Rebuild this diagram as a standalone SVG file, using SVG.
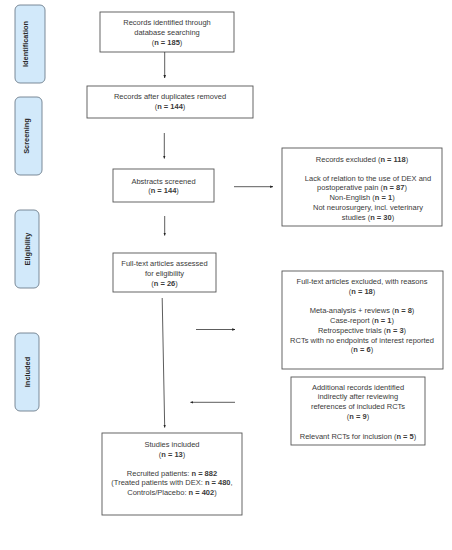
<svg xmlns="http://www.w3.org/2000/svg" width="452" height="550" viewBox="0 0 452 550">
<defs>
<marker id="ah" viewBox="0 0 10 10" refX="9" refY="5" markerWidth="4" markerHeight="4" orient="auto"><path d="M0,1 L10,5 L0,9 z" fill="#222"/></marker>
<style>
.box{fill:#fff;stroke:#555;stroke-width:0.9}
.phase{fill:#d2e9fa;stroke:#6e7e8c;stroke-width:0.9}
text{font-family:"Liberation Sans",Arial,sans-serif;font-size:7.5px;fill:#3a3a3a;text-anchor:middle}
.ph{font-weight:bold;font-size:7.4px;fill:#2a2a2a}
.b{font-weight:bold}
.c{stroke:#333;stroke-width:0.8;fill:none;marker-end:url(#ah)}
</style>
</defs>
<rect width="452" height="550" fill="#fff"/>
<g id="phase-identification"><rect class="phase" x="15" y="5" width="30" height="78" rx="5"/><text class="ph" transform="translate(27.8,44) rotate(-90)">Identification</text></g>
<g id="phase-screening"><rect class="phase" x="15" y="97" width="27" height="78" rx="5"/><text class="ph" transform="translate(28.8,136) rotate(-90)">Screening</text></g>
<g id="phase-eligibility"><rect class="phase" x="15" y="210" width="24" height="78" rx="5"/><text class="ph" transform="translate(29.5,249) rotate(-90)">Eligibility</text></g>
<g id="phase-included"><rect class="phase" x="15" y="333" width="24" height="78" rx="5"/><text class="ph" transform="translate(29.5,372) rotate(-90)">Included</text></g>

<g id="identified"><rect class="box" x="100" y="12" width="134" height="40"/>
<text x="167" y="25.3">Records identified through</text><text x="167" y="34.8">database searching</text><text x="167" y="44.6">(<tspan class="b">n = 185</tspan>)</text></g>
<g id="after-duplicates"><rect class="box" x="87" y="86" width="166" height="32"/>
<text x="170" y="98.8">Records after duplicates removed</text><text x="170" y="109.3">(<tspan class="b">n = 144</tspan>)</text></g>
<g id="abstracts"><rect class="box" x="113" y="169" width="101" height="33"/>
<text x="163.5" y="183.6">Abstracts screened</text><text x="163.5" y="193.3">(<tspan class="b">n = 144</tspan>)</text></g>
<g id="records-excluded"><rect class="box" x="282" y="148" width="160" height="78"/>
<text x="362" y="161.6">Records excluded (<tspan class="b">n = 118</tspan>)</text>
<text x="368" y="180.9">Lack of relation to the use of DEX and</text>
<text x="362" y="190.3">postoperative pain (<tspan class="b">n = 87</tspan>)</text>
<text x="362" y="199.9">Non-English (<tspan class="b">n = 1</tspan>)</text>
<text x="368" y="209.6">Not neurosurgery, incl. veterinary</text>
<text x="368" y="219.6">studies (<tspan class="b">n = 30</tspan>)</text></g>
<g id="fulltext-assessed"><rect class="box" x="113" y="253" width="103" height="39"/>
<text x="164.5" y="265.9">Full-text articles assessed</text><text x="164.5" y="275.9">for eligibility</text><text x="164.5" y="285.6">(<tspan class="b">n = 26</tspan>)</text></g>
<g id="fulltext-excluded"><rect class="box" x="282" y="271" width="161" height="98"/>
<text x="362" y="283.9">Full-text articles excluded, with reasons</text>
<text x="362" y="294.3">(<tspan class="b">n = 18</tspan>)</text>
<text x="362" y="313.3">Meta-analysis + reviews (<tspan class="b">n = 8</tspan>)</text>
<text x="362" y="323.3">Case-report (<tspan class="b">n = 1</tspan>)</text>
<text x="362" y="332.9">Retrospective trials (<tspan class="b">n = 3</tspan>)</text>
<text x="362" y="342.6">RCTs with no endpoints of interest reported</text>
<text x="362" y="352.3">(<tspan class="b">n = 6</tspan>)</text></g>
<g id="additional"><rect class="box" x="291" y="377" width="134" height="68"/>
<text x="358" y="389.6">Additional records identified</text>
<text x="358" y="399.3">indirectly after reviewing</text>
<text x="358" y="409.3">references of included RCTs</text>
<text x="358" y="419.3">(<tspan class="b">n = 9</tspan>)</text>
<text x="358" y="438.6">Relevant RCTs for inclusion (<tspan class="b">n = 5</tspan>)</text></g>
<g id="studies-included"><rect class="box" x="102" y="433" width="140" height="82"/>
<text x="172" y="446.6">Studies included</text>
<text x="172" y="456.6">(<tspan class="b">n = 13</tspan>)</text>
<text x="172" y="475.6">Recruited patients: <tspan class="b">n = 882</tspan></text>
<text x="172" y="485.3">(Treated patients with DEX: <tspan class="b">n = 480</tspan>,</text>
<text x="172" y="494.9">Controls/Placebo: <tspan class="b">n = 402</tspan>)</text></g>

<g id="connectors">
<line class="c" x1="164.7" y1="52" x2="164.7" y2="78"/>
<line class="c" x1="164.3" y1="133" x2="164.3" y2="158.5"/>
<line class="c" x1="234" y1="186.7" x2="273" y2="186.7"/>
<line class="c" x1="164.7" y1="216" x2="164.7" y2="235.5"/>
<line class="c" x1="162.2" y1="298" x2="164.7" y2="427.5"/>
<line class="c" x1="196" y1="329.5" x2="235" y2="329.5"/>
<line class="c" x1="235" y1="402.3" x2="190.5" y2="402.3"/>
</g>
</svg>
